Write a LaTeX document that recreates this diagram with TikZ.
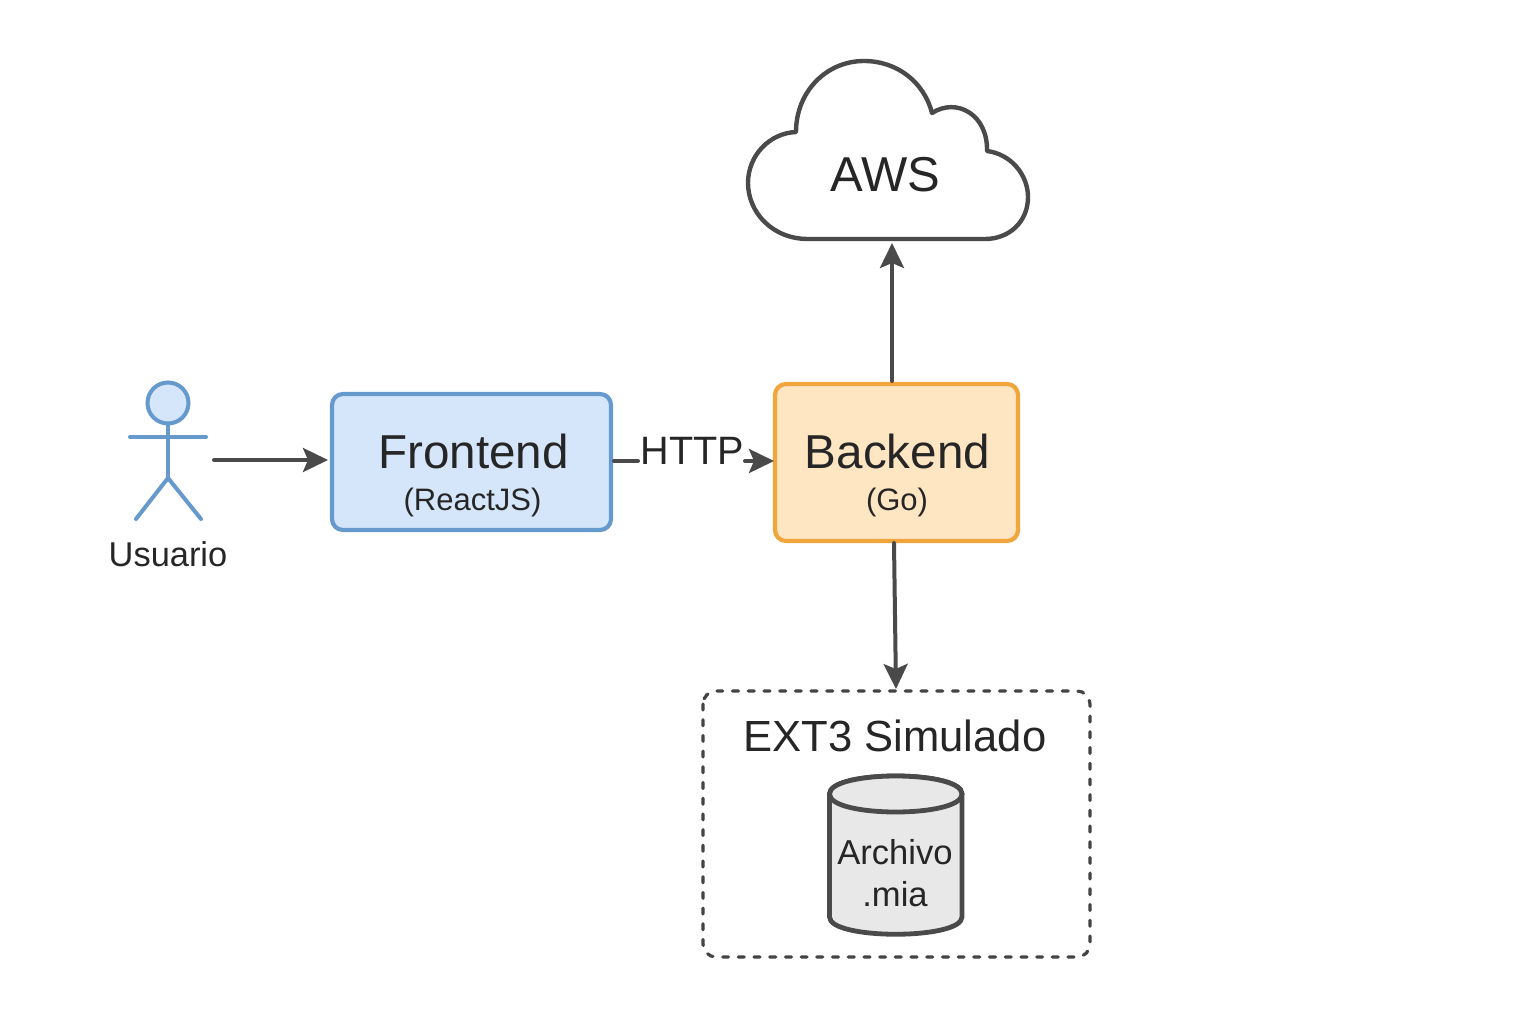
\documentclass[tikz,border=0pt]{standalone}
\usepackage{fontspec}
\setmainfont{Liberation Sans}
\usetikzlibrary{arrows.meta,calc}
\definecolor{ink}{HTML}{4A4A4A}
\definecolor{txt}{HTML}{262626}
\definecolor{bluel}{HTML}{6699CC}
\definecolor{bluef}{HTML}{D5E6FB}
\definecolor{orl}{HTML}{F0A63C}
\definecolor{orf}{HTML}{FEE6C2}
\definecolor{cylf}{HTML}{E8E8E8}
\tikzset{
 x=1pt,y=-1pt,
 conn/.style={draw=ink,line width=4pt,line cap=round,-{Stealth[length=25pt,width=24pt,inset=5pt]}},
 box/.style={rounded corners=11pt,line width=4.2pt,outer sep=0pt,inner sep=0pt,anchor=north west},
 lab/.style={text=txt,inner sep=0pt,anchor=center,align=center},
 actor/.style={draw=bluel,line width=4pt,line cap=round}
}
\begin{document}
\begin{tikzpicture}
\useasboundingbox (0,0) rectangle (1536,1024);
\fill[white] (0,0) rectangle (1536,1024);
% cloud
\draw[ink,line width=4.4pt,fill=white,line join=round] (808,239)
 .. controls (772,239) and (748,212) .. (748,183)
 .. controls (748,155) and (770,133) .. (796,132)
 .. controls (796,92) and (826,61) .. (864,61)
 .. controls (897,61) and (924,82) .. (932,113)
 .. controls (957,97) and (988,115) .. (987,151)
 .. controls (1011,154) and (1028,175) .. (1028,197)
 .. controls (1028,222) and (1009,239) .. (985,239) -- cycle;
\node[lab,font=\fontsize{49}{49}\selectfont] (aws) at (885.5,175) {AWS};
% boxes
\node[draw=bluel,fill=bluef,box,minimum width=279pt,minimum height=136pt] (fe) at (332,394) {};
\node[draw=orl,fill=orf,box,minimum width=243pt,minimum height=157pt] (be) at (775,384) {};
\node[lab,font=\fontsize{47.6}{47.6}\selectfont] (fet) at (473.5,451) {Frontend};
\node[lab,font=\fontsize{31}{31}\selectfont] (fes) at (472.5,502) {(ReactJS)};
\node[lab,font=\fontsize{47.6}{47.6}\selectfont] (bet) at (897.5,451) {Backend};
\node[lab,font=\fontsize{31}{31}\selectfont] (bes) at (897,502) {(Go)};
% actor
\coordinate (hip) at (168,478);
\coordinate (la) at (130,437);
\coordinate (ra) at (206,437);
\coordinate (ll) at (136,519);
\coordinate (rl) at (201,519);
\node[circle,draw=bluel,fill=bluef,line width=4pt,minimum size=41pt,inner sep=0pt,outer sep=0pt] (head) at (168,403) {};
\draw[actor] (head.south) -- (hip);
\draw[actor] (la) -- (ra);
\draw[actor] (ll) -- (hip) -- (rl);
\node[lab,font=\fontsize{34.4}{34.4}\selectfont] (usr) at (168,554) {Usuario};
% user arrow
\coordinate (us) at (214,460);
\coordinate (fi) at (328,460);
\draw[conn] (us) -- (fi);
% http
\node[lab,font=\fontsize{39.6}{39.6}\selectfont] (http) at (692.5,451) {HTTP};
\coordinate (f1) at (614,461);
\coordinate (f2) at (638,461);
\draw[draw=ink,line width=4pt,line cap=round] (f1) -- (f2);
\coordinate (h2) at (745,461);
\coordinate (h3) at (774,461);
\draw[conn] (h2) -- (h3);
% aws arrow
\coordinate (b1) at (892,381);
\coordinate (a1) at (892,243);
\draw[conn] (b1) -- (a1);
% ext3
\draw[ink!90!black,line width=3.2pt,line cap=round,dash pattern=on 6pt off 9.7pt,rounded corners=13pt] (703,691) rectangle (1090,957);
\node[lab,font=\fontsize{43.6}{43.6}\selectfont] (ext) at (895,736) {EXT3 Simulado};
\coordinate (bd) at (894,543);
\coordinate (xt) at (896,689);
\draw[conn] (bd) -- (xt);
% cylinder
\draw[ink,line width=4.8pt,fill=cylf] (829.5,794) -- (829.5,917) .. controls (829.5,940) and (962,940) .. (962,917) -- (962,794) .. controls (962,770) and (829.5,770) .. (829.5,794) -- cycle;
\draw[ink,line width=4.8pt,fill=cylf] (829.5,794) .. controls (829.5,818) and (962,818) .. (962,794) .. controls (962,770) and (829.5,770) .. (829.5,794) -- cycle;
\node[lab,font=\fontsize{34.6}{42}\selectfont] (ar) at (895,873) {Archivo\\.mia};
\end{tikzpicture}
\end{document}
